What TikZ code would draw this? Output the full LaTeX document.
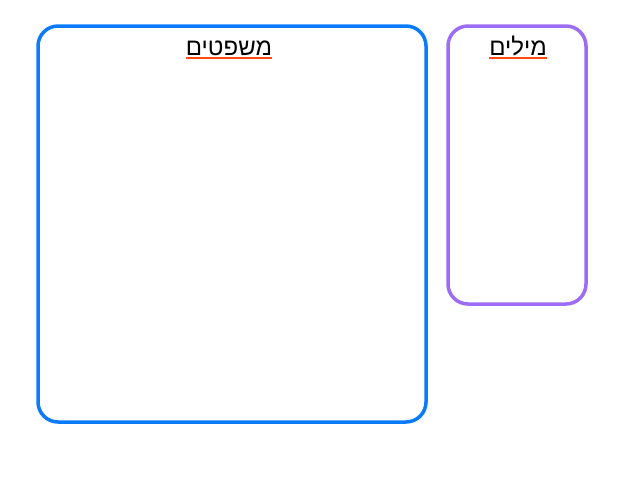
\documentclass[tikz,border=0pt]{standalone}
\usepackage{fontspec}
\setmainfont{Liberation Sans}
\TeXXeTstate=1
\newfontfamily\hebfont[Script=Hebrew]{Liberation Sans}
\definecolor{boxblue}{HTML}{0A7BFF}
\definecolor{boxpurple}{HTML}{9C6CF5}
\definecolor{ulred}{HTML}{FF4A12}
\tikzset{
  panel/.style={draw, line width=3.5pt, rounded corners=20pt},
  title/.style={font=\hebfont\fontsize{24}{28}\selectfont, inner sep=0pt, anchor=base, text=black},
  uline/.style={ulred, line width=1.8pt}
}
\begin{document}
\begin{tikzpicture}[x=1pt,y=-1pt]
\useasboundingbox (0,0) rectangle (640,480);
\draw[panel, boxblue] (38,26) rectangle (426,422);
\draw[panel, boxpurple] (448,26) rectangle (586,304);
\node[title] (t1) at (229,55) {\beginR משפטים\endR};
\node[title] (t2) at (518,55) {\beginR מילים\endR};
\draw[uline] ([yshift=-2.8pt]t1.base west) -- ([yshift=-2.8pt]t1.base east);
\draw[uline] ([yshift=-2.8pt]t2.base west) -- ([yshift=-2.8pt]t2.base east);
\end{tikzpicture}
\end{document}
